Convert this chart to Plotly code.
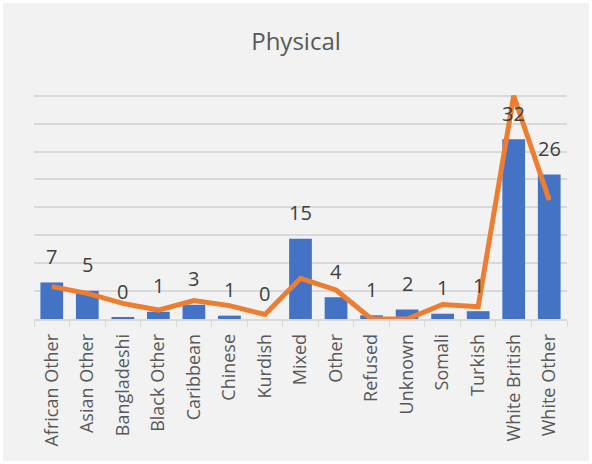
import plotly.graph_objects as go

categories = ["African Other", "Asian Other", "Bangladeshi", "Black Other", "Caribbean",
              "Chinese", "Kurdish", "Mixed", "Other", "Refused", "Unknown", "Somali",
              "Turkish", "White British", "White Other"]
bar_values = [6.55, 5.05, 0.3, 1.3, 2.55, 0.6, 0, 14.4, 3.9, 0.66, 1.7, 0.95, 1.4, 32.2, 25.9]
line_values = [5.8, 4.6, 2.8, 1.6, 3.3, 2.4, 0.8, 7.3, 5.2, 0, 0, 2.6, 2.2, 40, 21.3]
labels = ["7", "5", "0", "1", "3", "1", "0", "15", "4", "1", "2", "1", "1", "32", "26"]

FONT = "Open Sans"

fig = go.Figure()

# Bars
fig.add_trace(go.Bar(x=categories, y=bar_values, marker_color="#4472C4",
                     marker_line_width=0, showlegend=False))

# Orange line
fig.add_trace(go.Scatter(x=categories, y=line_values, mode="lines",
                         line=dict(color="#ED7D31", width=5), showlegend=False))

# Data labels above the bars
for cat, val, lab in zip(categories, bar_values, labels):
    fig.add_annotation(x=cat, y=val, text=lab, showarrow=False, yshift=26,
                       yanchor="middle", font=dict(family=FONT, size=20, color="#404040"))

# body margin set to 3px below, figure fills the rest of the window
fig.update_layout(
    width=586, height=458,
    title=dict(text="Physical", x=0.5, xanchor="center", y=0.915, yanchor="middle",
               font=dict(family=FONT, size=24, color="#595959")),
    paper_bgcolor="#F2F2F2", plot_bgcolor="#F2F2F2",
    margin=dict(l=31, r=22, t=90, b=142),
    bargap=0.36,
    font=dict(family=FONT, color="#595959"),
)

fig.update_xaxes(tickangle=-90, tickfont=dict(family=FONT, size=18, color="#595959"),
                 showline=True, linecolor="#D9D9D9", linewidth=1.5, automargin=False,
                 ticks="outside", tickson="boundaries", ticklen=6, tickcolor="#D9D9D9",
                 ticklabelstandoff=6, showgrid=False)
fig.update_yaxes(range=[0, 40.5], dtick=5, showticklabels=False, gridcolor="#D9D9D9",
                 gridwidth=1.5, zeroline=False, automargin=False)

fig.write_html("out.html", post_script="document.body.style.margin='3px';")
